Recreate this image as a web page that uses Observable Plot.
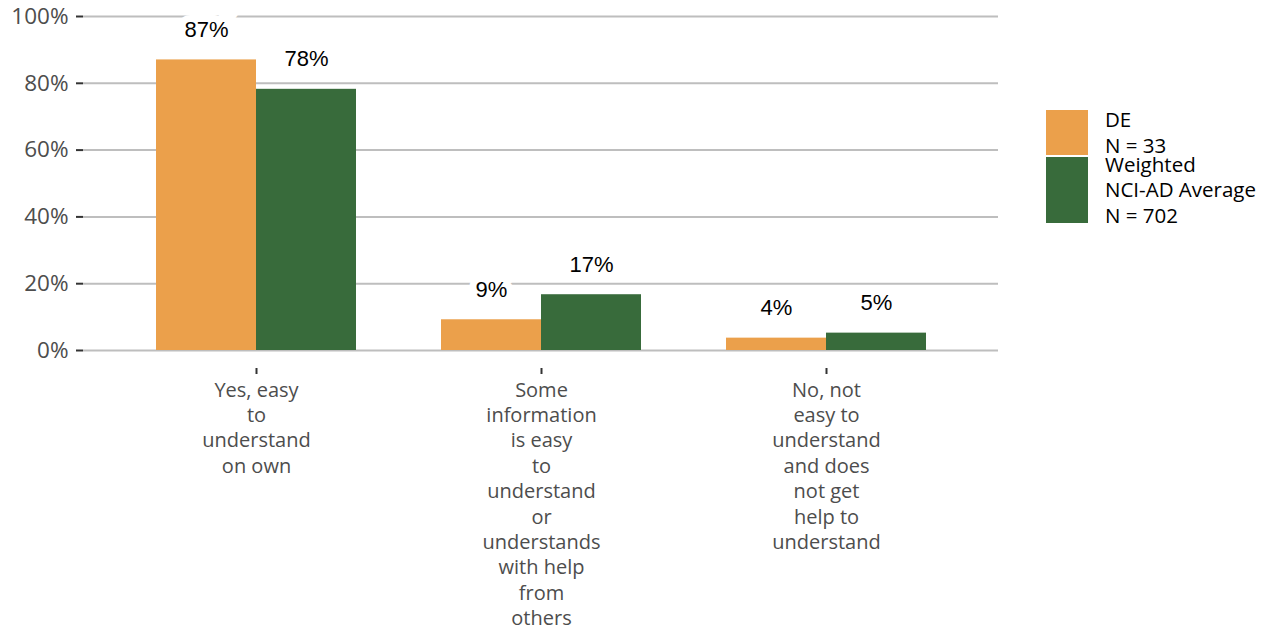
<!DOCTYPE html>
<html>
<head>
<meta charset="utf-8">
<script src="https://cdn.jsdelivr.net/npm/d3@7"></script>
<script src="https://cdn.jsdelivr.net/npm/@observablehq/plot@0.6"></script>
<style>
  html, body { margin: 0; padding: 0; background: #fff; }
  #wrap { position: relative; width: 1262px; height: 634px; }
  #legend { position: absolute; left: 1046px; top: 110px; font-family: "Open Sans", sans-serif; font-size: 20.5px; line-height: 25.5px; color: #000; }
  .item { display: flex; align-items: center; margin-bottom: 2px; white-space: nowrap; }
  .key { width: 42px; flex: none; margin-right: 17px; }
</style>
</head>
<body>
<div id="wrap"><div id="legend"></div></div>
<script>
const categories = [
  "Yes, easy to understand on own",
  "Some information is easy to understand or understands with help from others",
  "No, not easy to understand and does not get help to understand"
];
const tickLabels = [
  "Yes, easy\nto\nunderstand\non own",
  "Some\ninformation\nis easy\nto\nunderstand\nor\nunderstands\nwith help\nfrom\nothers",
  "No, not\neasy to\nunderstand\nand does\nnot get\nhelp to\nunderstand"
];
const seriesNames = ["DE", "Weighted NCI-AD Average"];
const legendLabels = ["DE<br>N = 33", "Weighted<br>NCI-AD Average<br>N = 702"];
const legendKeyHeights = [45, 66];
const colors = ["#EBA04B", "#386B3B"];
const deValues = [0.87, 0.092, 0.037];
const avgValues = [0.782, 0.167, 0.052];
const yTicks = [0, 0.2, 0.4, 0.6, 0.8, 1];

const de = categories.map((c, i) => ({category: c, value: deValues[i]}));
const avg = categories.map((c, i) => ({category: c, value: avgValues[i]}));
const labelOf = new Map(categories.map((c, i) => [c, tickLabels[i]]));
const pct = d3.format(".0%");

const chart = Plot.plot({
  width: 1262,
  height: 634,
  marginLeft: 83,
  marginRight: 264,
  marginTop: 16,
  marginBottom: 266,
  style: {fontFamily: "'Open Sans', sans-serif", color: "#4d4d4d", background: "transparent"},
  x: {domain: categories, paddingInner: 0.3, paddingOuter: 0.25, label: null},
  y: {domain: [0, 1], insetBottom: 18, label: null},
  marks: [
    Plot.gridY(yTicks, {stroke: "#bebebe", strokeOpacity: 1, strokeWidth: 2}),
    Plot.barY(de, {x: "category", y: "value", fill: colors[0], insetRight: 100}),
    Plot.barY(avg, {x: "category", y: "value", fill: colors[1], insetLeft: 100}),
    Plot.text(de, {x: "category", y: "value", text: d => pct(d.value), dx: -50, dy: -30,
      fill: "#000", stroke: "white", strokeWidth: 14, strokeLinejoin: "miter", fontSize: 22,
      fontFamily: "'Liberation Sans', Arial, sans-serif"}),
    Plot.text(avg, {x: "category", y: "value", text: d => pct(d.value), dx: 50, dy: -30,
      fill: "#000", stroke: "white", strokeWidth: 14, strokeLinejoin: "miter", fontSize: 22,
      fontFamily: "'Liberation Sans', Arial, sans-serif"}),
    Plot.axisY(yTicks, {tickFormat: pct, tickSize: 7, tickPadding: 8, fontSize: 22.5, stroke: "#333", strokeWidth: 2, fill: "#4d4d4d", label: null}),
    Plot.axisX({tickFormat: c => labelOf.get(c), tickSize: 6, tickPadding: 4, fontSize: 20, lineHeight: 1.27, stroke: "#333", strokeWidth: 2, fill: "#4d4d4d", label: null})
  ]
});
const wrap = document.getElementById("wrap");
wrap.insertBefore(chart, wrap.firstChild);

const legend = document.getElementById("legend");
seriesNames.forEach((s, i) => {
  const item = document.createElement("div");
  item.className = "item";
  item.style.height = legendKeyHeights[i] + "px";
  item.innerHTML = `<div class="key" style="background:${colors[i]};height:${legendKeyHeights[i]}px"></div><div>${legendLabels[i]}</div>`;
  legend.appendChild(item);
});
</script>
</body>
</html>
